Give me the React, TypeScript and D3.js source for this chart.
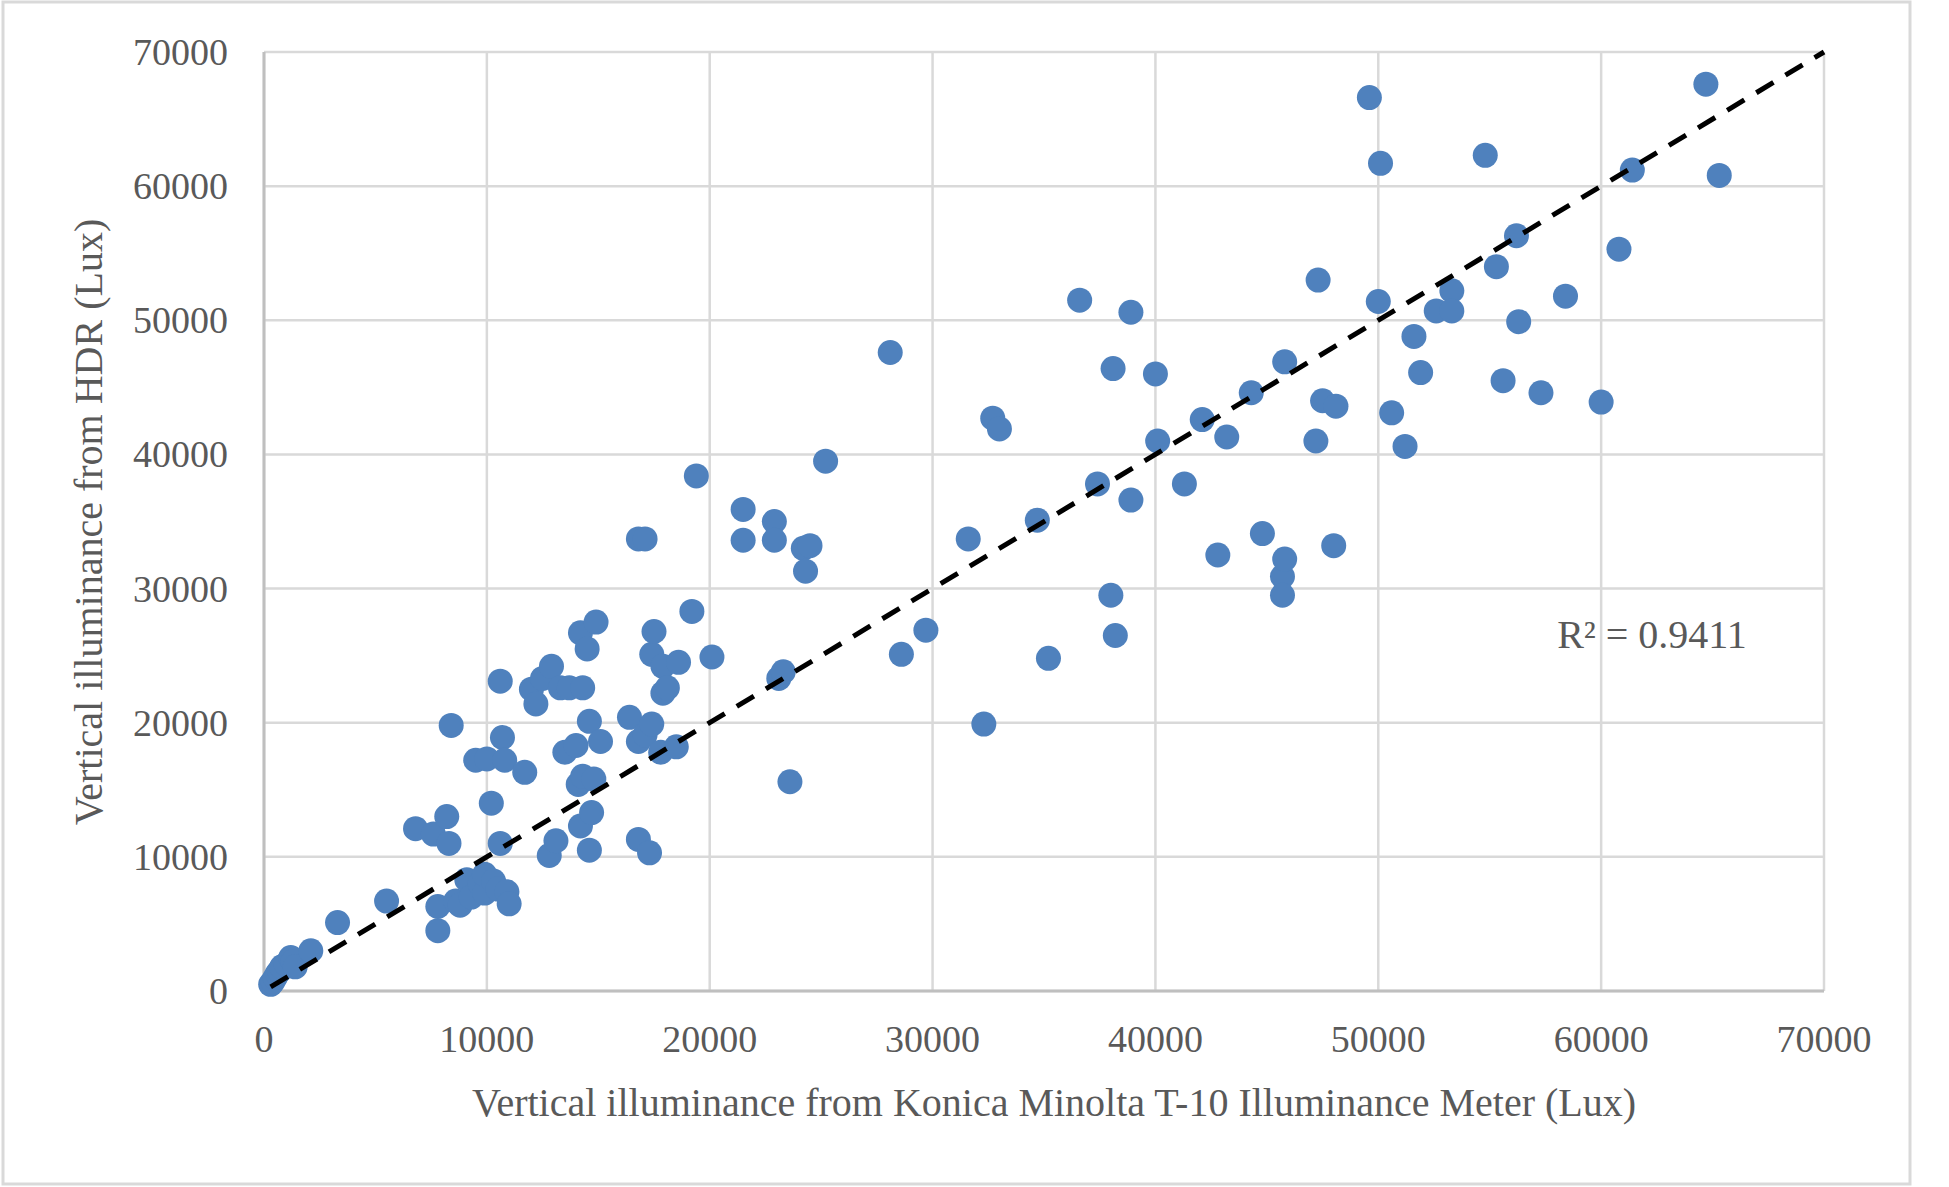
import { useEffect } from "react";
import * as d3 from "d3";

// Konica Minolta meter (x) vs HDR (y), lux
const meterLux = [
  300, 400, 500, 600, 700, 800, 1000, 1200, 1300, 1400, 2100, 3300, 5500, 6800, 7600, 7800, 7800, 8200, 8300, 8400,
  8600, 8800, 9100, 9300, 9500, 9700, 9900, 9900, 10000, 10200, 10300, 10500, 10600, 10600, 10700, 10800, 10900, 11000, 11700, 12000,
  12200, 12500, 12800, 12900, 13100, 13300, 13500, 13700, 14000, 14100, 14200, 14200, 14300, 14300, 14500, 14600, 14600, 14700, 14800, 14900,
  15100, 16400, 16800, 16800, 16800, 17100, 17100, 17300, 17400, 17400, 17500, 17800, 17900, 17900, 18100, 18500, 18600, 19200, 19400, 20100,
  21500, 21500, 22900, 22900, 23100, 23300, 23600, 24200, 24300, 24500, 25200, 28100, 28600, 29700, 31600, 32300, 32700, 33000, 34700, 35200,
  36600, 37400, 38000, 38100, 38200, 38900, 38900, 40000, 40100, 41300, 42100, 42800, 43200, 44300, 44800, 45700, 45700, 45800, 45800, 47200,
  47300, 47500, 48000, 48100, 49600, 50000, 50100, 50600, 51200, 51600, 51900, 52600, 53300, 53300, 54800, 55300, 55600, 56200, 56300, 57300,
  58400, 60000, 60800, 61400, 64700, 65300,
];
const hdrLux = [
  500, 700, 1000, 1300, 1500, 1800, 2000, 2500, 2200, 1800, 3000, 5100, 6700, 12100, 11700, 6300, 4500, 13000, 11000, 19800,
  6700, 6400, 8300, 7000, 17200, 8000, 7300, 8700, 17300, 14000, 8200, 7600, 11000, 23100, 18900, 17200, 7400, 6500, 16300, 22500,
  21400, 23300, 10100, 24200, 11200, 22600, 17800, 22600, 18300, 15400, 26700, 12300, 22600, 16000, 25500, 20100, 10500, 13300, 15800, 27500,
  18600, 20400, 33700, 11300, 18600, 33700, 19100, 10300, 25100, 19900, 26800, 17800, 24200, 22200, 22600, 18200, 24500, 28300, 38400, 24900,
  33600, 35900, 35000, 33600, 23300, 23800, 15600, 33000, 31300, 33200, 39500, 47600, 25100, 26900, 33700, 19900, 42700, 41900, 35100, 24800,
  51500, 37800, 29500, 46400, 26500, 36600, 50600, 46000, 41000, 37800, 42600, 32500, 41300, 44600, 34100, 30900, 29500, 46900, 32200, 41000,
  53000, 44000, 33200, 43600, 66600, 51400, 61700, 43100, 40600, 48800, 46100, 50700, 52200, 50700, 62300, 54000, 45500, 56300, 49900, 44600,
  51800, 43900, 55300, 61200, 67600, 60800,
];
const tickValues = [0, 10000, 20000, 30000, 40000, 50000, 60000, 70000];
const trendX = [300, 70000];
const trendSlope = 1.0;

export default function App() {
  useEffect(() => {
    document.body.style.margin = "0";
  }, []);

  const W = 1949;
  const H = 1187;
  const left = 264, right = 1824, top = 52, bottom = 991;
  const x = d3.scaleLinear().domain([0, 70000]).range([left, right]);
  const y = d3.scaleLinear().domain([0, 70000]).range([bottom, top]);
  const font = "'Liberation Serif', 'Times New Roman', serif";
  const grey = "#595959";
  const pts = meterLux.map((v, i) => [v, hdrLux[i]] as [number, number]);
  const line = d3.line<number>().x((d) => x(d)).y((d) => y(d * trendSlope));

  return (
    <svg width={W} height={H} style={{ display: "block", background: "#fff" }}>
      <rect x={3} y={2} width={1907} height={1182} fill="#fff" stroke="#d9d9d9" strokeWidth={3} />
      {tickValues.map((t) => (
        <g key={t}>
          <line x1={left} x2={right} y1={y(t)} y2={y(t)} stroke="#d9d9d9" strokeWidth={2.5} />
          <line x1={x(t)} x2={x(t)} y1={top} y2={bottom} stroke="#d9d9d9" strokeWidth={2.5} />
        </g>
      ))}
      <line x1={left} x2={right} y1={bottom} y2={bottom} stroke="#bfbfbf" strokeWidth={3} />
      <line x1={left} x2={left} y1={top} y2={bottom} stroke="#bfbfbf" strokeWidth={3} />
      {tickValues.map((t) => (
        <g key={"l" + t} fontFamily={font} fontSize={38} fill={grey}>
          <text x={228} y={y(t) + 13} textAnchor="end">{t}</text>
          <text x={x(t)} y={1052} textAnchor="middle">{t}</text>
        </g>
      ))}
      {pts.map(([a, b], i) => (
        <circle key={i} cx={x(a)} cy={y(b)} r={12.5} fill="#4f81bd" />
      ))}
      <path d={line(trendX) ?? ""} fill="none" stroke="#000" strokeWidth={5} strokeDasharray="20 14" />
      <text x={1652} y={648} fontFamily={font} fontSize={40} fill={grey} textAnchor="middle">R² = 0.9411</text>
      <text x={1054} y={1116} fontFamily={font} fontSize={40} fill={grey} textAnchor="middle">
        Vertical illuminance from Konica Minolta T-10 Illuminance Meter (Lux)
      </text>
      <text transform="translate(102,522) rotate(-90)" fontFamily={font} fontSize={40} fill={grey} textAnchor="middle">
        Vertical illuminance from HDR (Lux)
      </text>
    </svg>
  );
}
